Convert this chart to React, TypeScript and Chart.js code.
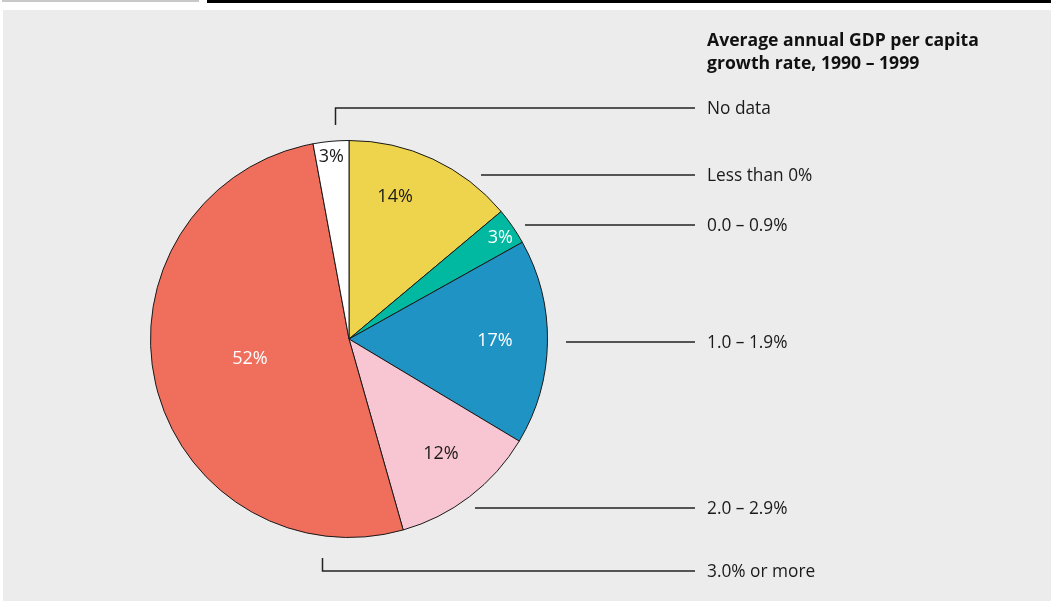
import React, { useEffect, useRef } from "react";
import { Chart, registerables } from "chart.js";
Chart.register(...registerables);

const categories = ["Less than 0%", "0.0 – 0.9%", "1.0 – 1.9%", "2.0 – 2.9%", "3.0% or more", "No data"];
const shares = [13.9, 3.0, 16.7, 12.0, 51.5, 2.9];
const shareLabels = ["14%", "3%", "17%", "12%", "52%", "3%"];
const colors = ["#edd44c", "#00b9a0", "#1f93c3", "#f8c5d2", "#f06e5c", "#ffffff"];
const labelColors = ["#1a1a1a", "#ffffff", "#ffffff", "#1a1a1a", "#ffffff", "#1a1a1a"];
const titleLines = ["Average annual GDP per capita", "growth rate, 1990 – 1999"];

// label placement inside slice: fraction of slice angle, radius in px
const labelFrac = [0.36, 0.57, 0.5, 0.47, 0.51, 0.47];
const labelRadius = [149, 182, 146, 147, 101, 183];
// leader lines
const leaderStartX = [481, 525, 566, 475, 322, 335];
const leaderY = [175, 225, 342, 508, 571, 108];
const leaderElbowY: (number | null)[] = [null, null, null, null, 558, 125];

const FONT = "'Open Sans', 'Noto Sans', sans-serif";

const decor = {
  id: "decor",
  beforeDraw(chart: any) {
    const ctx = chart.ctx;
    ctx.save();
    ctx.fillStyle = "#ffffff";
    ctx.fillRect(0, 0, chart.width, chart.height);
    ctx.fillStyle = "#ebeceb";
    ctx.fillRect(3, 10, chart.width - 3, chart.height - 10);
    ctx.fillStyle = "#c8c8c8";
    ctx.fillRect(2, 0, 197, 2);
    ctx.fillStyle = "#000000";
    ctx.fillRect(207, 0, chart.width - 207, 3);
    ctx.restore();
  },
  afterDraw(chart: any) {
    const ctx = chart.ctx;
    const meta = chart.getDatasetMeta(0);
    ctx.save();
    ctx.font = `18px ${FONT}`;
    ctx.textAlign = "center";
    ctx.textBaseline = "middle";
    meta.data.forEach((arc: any, i: number) => {
      const a = arc.startAngle + (arc.endAngle - arc.startAngle) * labelFrac[i];
      const x = arc.x + Math.cos(a) * labelRadius[i];
      const y = arc.y + Math.sin(a) * labelRadius[i];
      ctx.fillStyle = labelColors[i];
      ctx.fillText(shareLabels[i], x, y);
    });
    ctx.strokeStyle = "#222222";
    ctx.lineWidth = 1.5;
    categories.forEach((c, i) => {
      ctx.beginPath();
      const e = leaderElbowY[i];
      if (e !== null) {
        ctx.moveTo(leaderStartX[i] + 0.5, e);
        ctx.lineTo(leaderStartX[i] + 0.5, leaderY[i]);
      } else {
        ctx.moveTo(leaderStartX[i], leaderY[i]);
      }
      ctx.lineTo(695, leaderY[i]);
      ctx.stroke();
      ctx.fillStyle = "#1a1a1a";
      ctx.textAlign = "left";
      ctx.font = `17.3px ${FONT}`;
      ctx.fillText(c, 707, leaderY[i] + 1);
    });
    ctx.font = `bold 17.6px ${FONT}`;
    ctx.fillStyle = "#111111";
    ctx.textAlign = "left";
    titleLines.forEach((t, i) => ctx.fillText(t, 707, 41 + i * 23));
    ctx.restore();
  },
};

export default function App() {
  const ref = useRef<HTMLCanvasElement>(null);
  useEffect(() => {
    document.body.style.margin = "0";
    const chart = new Chart(ref.current!, {
      type: "pie",
      data: {
        labels: categories,
        datasets: [
          {
            data: shares,
            backgroundColor: colors,
            borderColor: "#1a1a1a",
            borderWidth: 1,
          },
        ],
      },
      options: {
        responsive: false,
        animation: false,
        layout: { padding: { left: 150, right: 503, top: 140, bottom: 63 } },
        plugins: { legend: { display: false }, tooltip: { enabled: false } },
      },
      plugins: [decor],
    });
    return () => chart.destroy();
  }, []);
  return <canvas ref={ref} width={1051} height={601} style={{ display: "block" }} />;
}
